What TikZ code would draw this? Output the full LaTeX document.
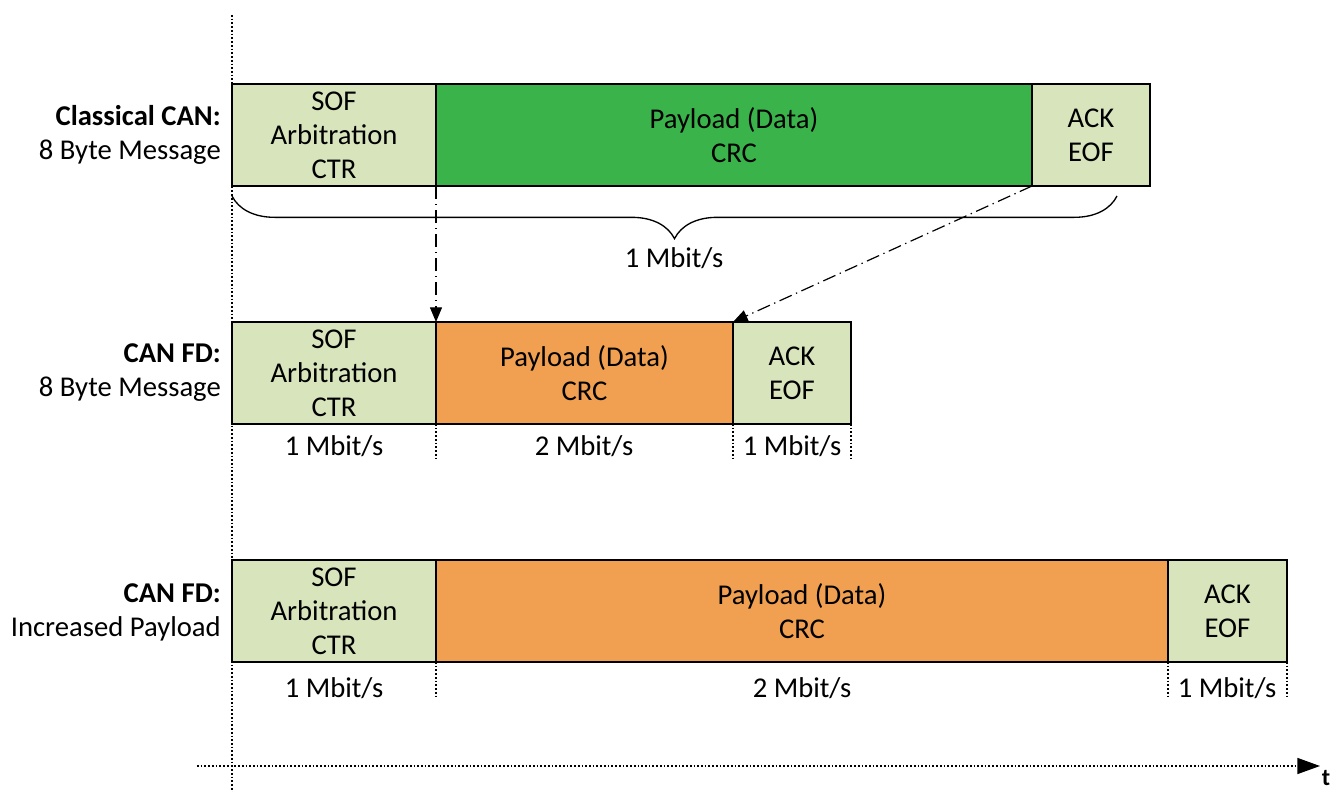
\documentclass[tikz,border=0pt]{standalone}
\usepackage{fontspec}
\setmainfont{Carlito}
\usetikzlibrary{arrows.meta,decorations.pathreplacing}
\definecolor{lgreen}{RGB}{216,228,188}
\definecolor{dgreen}{RGB}{57,179,74}
\definecolor{orng}{RGB}{240,160,80}
\begin{document}
\begin{tikzpicture}[x=0.75pt,y=-0.75pt,
  txt/.style={font=\fontsize{21.5}{25.5}\selectfont},
  seg/.style={txt,draw=black,line width=1pt,inner sep=0pt,outer sep=0pt,align=center,minimum height=76.5pt,anchor=north west},
  light/.style={seg,fill=lgreen},
  dots/.style={line width=1.1pt,dash pattern=on 1.3pt off 1.5pt},
  dd/.style={line width=0.9pt,dash pattern=on 10pt off 3.5pt on 1pt off 3.5pt,-{Triangle[length=11pt,width=9pt]}},
  lbl/.style={txt,align=right,anchor=east,inner sep=0pt},
  rate/.style={txt,inner sep=0pt}]
\useasboundingbox (0,0) rectangle (1336,792);
% axes
\coordinate (v0) at (232,15);
\coordinate (v1) at (232,792);
\coordinate (h0) at (197,766);
\coordinate (h1) at (1320,766);
\draw[dots] (v0) -- (v1);
\draw[dots,-{Triangle[length=17pt,width=12pt]}] (h0) -- (h1);
\node[font=\bfseries\fontsize{18}{22}\selectfont,anchor=south,inner sep=0pt] (t) at (1326,786) {t};
% row 1
\node[light,minimum width=153pt] (s1) at (232,84) {SOF\\Arbitration\\CTR};
\node[seg,fill=dgreen,minimum width=447pt] (p1) at (s1.north east) {Payload (Data)\\CRC};
\node[light,minimum width=88.5pt] (a1) at (p1.north east) {ACK\\EOF};
\node[lbl] (l1) at (221,135) {\textbf{Classical CAN:}\\8 Byte Message};
\coordinate (b1) at (232,196);
\coordinate (b2) at (1117,196);
\draw[line width=1pt,decorate,decoration={brace,mirror,amplitude=32pt}] (b1) -- (b2);
\node[rate] (r1) at (674,258) {1 Mbit/s};
% row 2
\node[light,minimum width=153pt] (s2) at (232,322) {SOF\\Arbitration\\CTR};
\node[seg,fill=orng,minimum width=222.75pt] (p2) at (s2.north east) {Payload (Data)\\CRC};
\node[light,minimum width=88.5pt] (a2) at (p2.north east) {ACK\\EOF};
\node[lbl] (l2) at (221,373) {\textbf{CAN FD:}\\8 Byte Message};
\draw[dots] (s2.south east) -- ++(0,36);
\draw[dots] (p2.south east) -- ++(0,36);
\draw[dots] (a2.south east) -- ++(0,36);
\node[rate] (r21) at (334,446) {1 Mbit/s};
\node[rate] (r22) at (584,446) {2 Mbit/s};
\node[rate] (r23) at (792,446) {1 Mbit/s};
% arrows
\draw[dd] (s1.south east) -- (s2.north east);
\draw[dd] (p1.south east) -- (p2.north east);
% row 3
\node[light,minimum width=153pt] (s3) at (232,560) {SOF\\Arbitration\\CTR};
\node[seg,fill=orng,minimum width=549pt] (p3) at (s3.north east) {Payload (Data)\\CRC};
\node[light,minimum width=89.25pt] (a3) at (p3.north east) {ACK\\EOF};
\node[lbl] (l3) at (221,612) {\textbf{CAN FD:}\\Increased Payload};
\draw[dots] (s3.south east) -- ++(0,36);
\draw[dots] (p3.south east) -- ++(0,36);
\draw[dots] (a3.south east) -- ++(0,36);
\node[rate] (r31) at (334,688) {1 Mbit/s};
\node[rate] (r32) at (802,688) {2 Mbit/s};
\node[rate] (r33) at (1227,688) {1 Mbit/s};
\end{tikzpicture}
\end{document}
